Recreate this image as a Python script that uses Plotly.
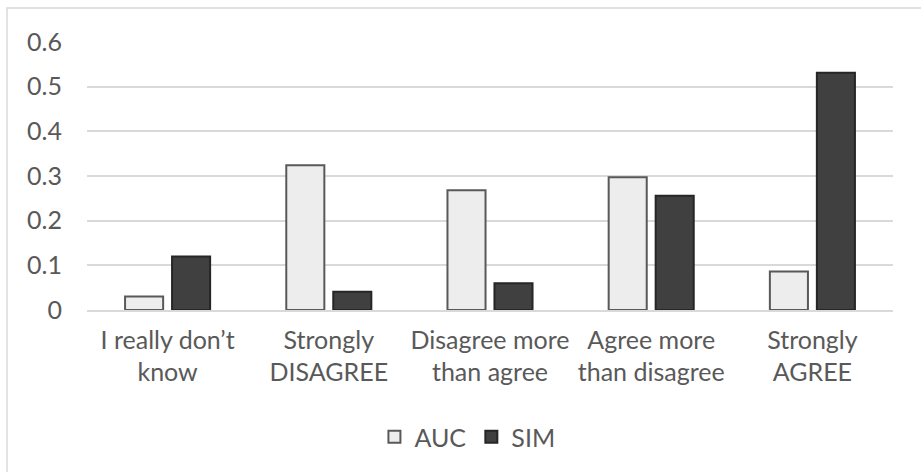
import plotly.graph_objects as go

categories = [
    "I really don\u2019t<br>know",
    "Strongly<br>DISAGREE",
    "Disagree more<br>than agree",
    "Agree more<br>than disagree",
    "Strongly<br>AGREE",
]
auc_values = [0.03, 0.324, 0.268, 0.297, 0.086]
sim_values = [0.12, 0.041, 0.06, 0.256, 0.531]
y_ticks = [0, 0.1, 0.2, 0.3, 0.4, 0.5, 0.6]
y_tick_labels = ["0", "0.1", "0.2", "0.3", "0.4", "0.5", "0.6"]

FONT = "Lato"
TEXT = "#595959"
GRID = "#d9d9d9"
FS = 25

fig = go.Figure()
fig.add_trace(go.Bar(
    name="AUC", x=categories, y=auc_values,
    marker=dict(color="#ededed", line=dict(color="#595959", width=2)),
))
fig.add_trace(go.Bar(
    name="SIM", x=categories, y=sim_values,
    marker=dict(color="#404040", line=dict(color="#262626", width=2)),
))

# chart frame around everything
fig.add_shape(type="rect", xref="paper", yref="paper",
              x0=-0.0993, x1=1.05, y0=-0.7, y1=1.1269,
              line=dict(color=GRID, width=1.5), fillcolor="rgba(0,0,0,0)",
              layer="below")

fig.update_layout(
    width=921, height=472,
    margin=dict(l=87, r=28, t=42, b=162),
    paper_bgcolor="white", plot_bgcolor="white",
    barmode="group", bargap=0.417, bargroupgap=0.19,
    font=dict(family=FONT, size=FS, color=TEXT),
    showlegend=True,
    legend=dict(orientation="h", x=0.472, xanchor="center",
                y=-0.474, yanchor="middle",
                font=dict(family=FONT, size=FS, color=TEXT),
                itemwidth=30, traceorder="normal"),
    xaxis=dict(showgrid=False, showline=True, linecolor=GRID, linewidth=1.5,
               ticks="", ticklabelstandoff=7,
               tickfont=dict(family=FONT, size=FS, color=TEXT)),
    yaxis=dict(range=[0, 0.6], tickvals=y_ticks, ticktext=y_tick_labels,
               showgrid=True, gridcolor=GRID, gridwidth=1.5,
               zeroline=False, showline=False, ticks="",
               ticklabelstandoff=24,
               tickfont=dict(family=FONT, size=FS, color=TEXT)),
)

fig.write_html("out.html")
